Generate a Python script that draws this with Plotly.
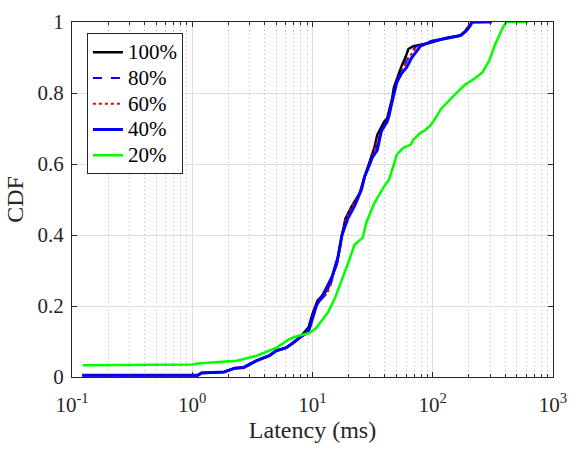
import plotly.graph_objects as go

# Latency CDF per sampling ratio (latency in ms, cumulative fraction)
lat_100 = [0.122, 1.11, 1.19, 1.84, 2.26, 2.68, 3.43, 4.38, 4.99, 6.0, 6.84, 7.69, 8.5, 9.27, 10.0,
           11.0, 13.3, 14.6, 15.9, 17.3, 18.8, 21.3, 24.7, 27.1, 29.6, 32.7, 34.5, 39.4, 41.7,
           45.8, 47.6, 52.3, 55.2, 59.1, 62.7, 68.9, 92.0, 127.0, 170.0, 187.0, 213.0, 256.0]
cdf_100 = [0.005, 0.005, 0.011, 0.014, 0.025, 0.027, 0.046, 0.060, 0.074, 0.082, 0.095, 0.109, 0.125, 0.140, 0.178,
           0.215, 0.245, 0.286, 0.319, 0.387, 0.447, 0.482, 0.518, 0.564, 0.600, 0.646, 0.681, 0.719, 0.728,
           0.782, 0.817, 0.856, 0.877, 0.899, 0.924, 0.932, 0.940, 0.954, 0.962, 0.975, 1.0, 1.0]

lat_80 = [0.122, 1.11, 1.19, 1.84, 2.26, 2.68, 3.43, 4.38, 4.99, 6.0, 6.84, 7.69, 8.7, 9.4, 10.1,
          11.2, 13.6, 14.8, 16.1, 17.5, 19.2, 21.8, 25.1, 27.1, 30.1, 33.1, 35.5, 39.0, 42.0,
          45.5, 48.0, 52.8, 56.5, 61.0, 66.0, 72.0, 90.0, 127.0, 170.0, 187.0, 210.0, 280.0]
cdf_80 = [0.005, 0.005, 0.011, 0.014, 0.025, 0.027, 0.046, 0.060, 0.074, 0.082, 0.095, 0.109, 0.124, 0.138, 0.176,
          0.210, 0.240, 0.283, 0.322, 0.390, 0.446, 0.482, 0.522, 0.562, 0.600, 0.641, 0.675, 0.705, 0.725,
          0.772, 0.810, 0.850, 0.870, 0.895, 0.915, 0.930, 0.942, 0.954, 0.962, 0.975, 1.0, 1.0]

lat_60 = [0.122, 1.11, 1.19, 1.84, 2.26, 2.68, 3.43, 4.38, 4.99, 6.0, 6.84, 7.69, 8.8, 9.4, 10.1,
          11.1, 13.5, 14.7, 16.0, 17.5, 19.0, 21.6, 24.9, 27.0, 30.0, 33.0, 35.0, 38.5, 41.8,
          45.5, 48.3, 53.0, 57.0, 61.5, 67.0, 73.0, 92.0, 127.0, 170.0, 187.0, 211.0, 290.0]
cdf_60 = [0.005, 0.005, 0.011, 0.014, 0.025, 0.027, 0.046, 0.060, 0.074, 0.082, 0.095, 0.109, 0.124, 0.136, 0.176,
          0.212, 0.242, 0.285, 0.320, 0.392, 0.448, 0.483, 0.520, 0.563, 0.602, 0.642, 0.672, 0.700, 0.722,
          0.770, 0.808, 0.848, 0.868, 0.893, 0.912, 0.929, 0.942, 0.954, 0.962, 0.975, 1.0, 1.0]

lat_40 = [0.122, 1.11, 1.19, 1.84, 2.26, 2.68, 3.43, 4.38, 4.99, 6.0, 6.84, 7.69, 9.27, 10.0,
          10.8, 12.1, 14.6, 16.3, 17.6, 19.7, 22.4, 25.6, 27.1, 28.6, 31.5, 34.5, 37.3, 41.7,
          43.3, 45.0, 47.6, 50.3, 55.2, 60.6, 66.7, 73.3, 79.0, 98.0, 127.0, 170.0, 187.0, 202.0, 213.0, 310.0]
cdf_40 = [0.005, 0.005, 0.011, 0.014, 0.025, 0.027, 0.046, 0.060, 0.074, 0.082, 0.095, 0.109, 0.128, 0.165,
          0.202, 0.229, 0.283, 0.338, 0.401, 0.447, 0.482, 0.529, 0.564, 0.583, 0.619, 0.638, 0.692, 0.719,
          0.736, 0.763, 0.801, 0.831, 0.856, 0.872, 0.899, 0.918, 0.932, 0.946, 0.954, 0.962, 0.973, 0.986, 1.0, 1.0]

lat_20 = [0.123, 1.01, 1.11, 2.35, 3.43, 4.29, 4.99, 5.69, 6.37, 7.26, 9.27, 10.6, 12.1, 13.5,
          15.4, 17.6, 19.7, 22.4, 26.1, 28.1, 29.6, 32.7, 39.4, 43.3, 47.6, 50.3, 57.4, 65.4,
          68.9, 78.6, 86.4, 95.4, 105.0, 117.0, 147.0, 185.0, 226.0, 259.0, 295.0, 330.0, 385.0, 410.0, 625.0]
cdf_20 = [0.033, 0.035, 0.038, 0.046, 0.060, 0.074, 0.082, 0.095, 0.106, 0.114, 0.123, 0.136, 0.163, 0.183,
          0.223, 0.272, 0.319, 0.373, 0.392, 0.436, 0.455, 0.490, 0.537, 0.556, 0.600, 0.627, 0.646, 0.654,
          0.668, 0.687, 0.695, 0.708, 0.728, 0.755, 0.790, 0.823, 0.842, 0.858, 0.891, 0.937, 0.986, 1.0, 1.0]

series = [
    ("100%", lat_100, cdf_100, "#000000", 2.5, "solid"),
    ("80%", lat_80, cdf_80, "#0000ff", 2.0, "dash"),
    ("60%", lat_60, cdf_60, "#ff0000", 2.0, "dot"),
    ("40%", lat_40, cdf_40, "#0000ff", 3.0, "solid"),
    ("20%", lat_20, cdf_20, "#00ff00", 2.5, "solid"),
]

x_tickvals = [0.1, 1, 10, 100, 1000]
x_ticktext = ["10<sup>-1</sup>", "10<sup>0</sup>", "10<sup>1</sup>", "10<sup>2</sup>", "10<sup>3</sup>"]
y_tickvals = [0, 0.2, 0.4, 0.6, 0.8, 1]
y_ticktext = ["0", "0.2", "0.4", "0.6", "0.8", "1"]

axis_color = "#262626"
font_family = "Liberation Serif"

fig = go.Figure()
for name, xs, ys, color, width, dash in series:
    # legend rows are spaced from the legend font size; the label itself is drawn a bit larger
    label = f"<span style='font-size:21px'>{name}</span>"
    fig.add_trace(go.Scatter(x=xs, y=ys, mode="lines", name=label,
                             line=dict(color=color, width=width, dash=dash)))

fig.update_layout(
    width=577, height=450,
    margin=dict(l=72, r=15, t=10, b=73),
    paper_bgcolor="white", plot_bgcolor="white",
    font=dict(family=font_family, size=21, color=axis_color),
    showlegend=True,
    legend=dict(x=0.031, y=0.968, xanchor="left", yanchor="top",
                bgcolor="white", bordercolor=axis_color, borderwidth=1,
                font=dict(family=font_family, size=17.5, color="black"),
                itemwidth=30, tracegroupgap=0),
)

fig.update_xaxes(
    type="log", range=[-1, 3],
    tickmode="array", tickvals=x_tickvals, ticktext=x_ticktext,
    ticks="inside", ticklen=5, tickcolor=axis_color,
    showline=True, linecolor=axis_color, linewidth=1, mirror="allticks",
    showgrid=True, gridcolor="#dedede", gridwidth=1,
    zeroline=False,
    tickfont=dict(family=font_family, size=21),
    ticklabelstandoff=9, ticklabeloverflow="allow",
    title=dict(text="Latency (ms)", font=dict(family=font_family, size=24), standoff=0),
    minor=dict(dtick="D1", ticks="inside", ticklen=3, tickcolor=axis_color,
               showgrid=True, gridcolor="#b8b8b8", griddash="1px,3px", gridwidth=1),
)
fig.update_yaxes(
    range=[0, 1],
    tickvals=y_tickvals, ticktext=y_ticktext,
    ticks="inside", ticklen=5, tickcolor=axis_color,
    showline=True, linecolor=axis_color, linewidth=1, mirror="allticks",
    showgrid=True, gridcolor="#dedede", gridwidth=1,
    zeroline=False,
    tickfont=dict(family=font_family, size=21),
    ticklabelstandoff=3, ticklabeloverflow="allow",
    title=dict(text="CDF", font=dict(family=font_family, size=24), standoff=7),
)

fig.write_html("out.html")
